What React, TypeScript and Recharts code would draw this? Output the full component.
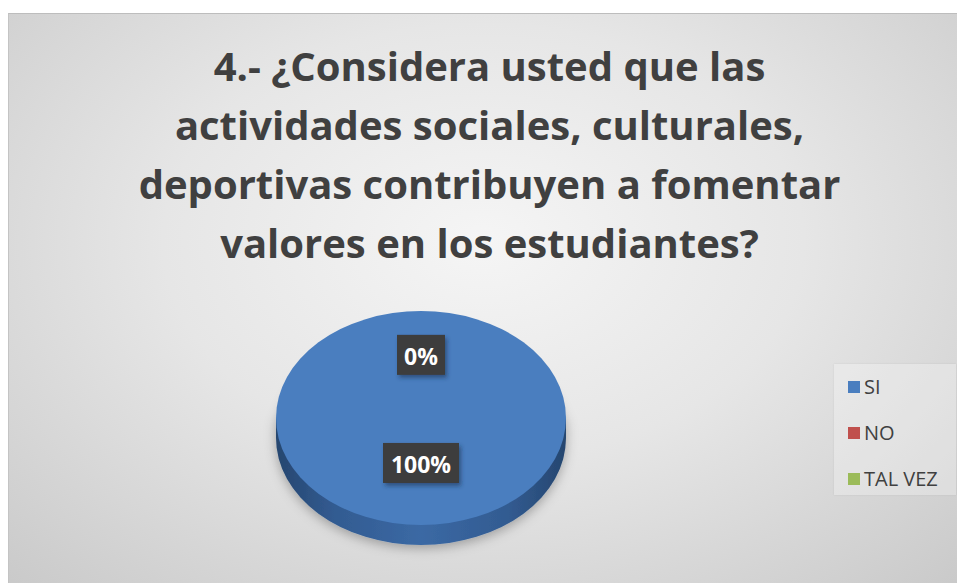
import React from "react";
import { Cell, Legend, Pie, PieChart } from "recharts";

const CATEGORIES = ["SI", "NO", "TAL VEZ"];
const VALUES = [100, 0, 0];
const COLORS = ["#4a7ebf", "#c0504d", "#9bbb59"];
const SIDE_COLORS = ["url(#sideBlue)", "#8a3a38", "#6f8a3e"];
const TITLE_LINES = [
  "4.- ¿Considera usted que las",
  "actividades sociales, culturales,",
  "deportivas contribuyen a fomentar",
  "valores en los estudiantes?"
];

const data = CATEGORIES.map((name, i) => ({ name, value: VALUES[i] }));

// 3D look: squash the pie vertically and add a rim below it
const ER = 0.738;
const DEPTH = 20;
const FONT = "'Open Sans', 'Noto Sans', sans-serif";

function pt(cx: number, cy: number, rx: number, ry: number, a: number) {
  const r = (a * Math.PI) / 180;
  return [cx + rx * Math.cos(r), cy - ry * Math.sin(r)];
}

function ellipseSector(cx: number, cy: number, rx: number, ry: number, sa: number, ea: number) {
  if (Math.abs(ea - sa) >= 359.99) {
    return `M ${cx - rx} ${cy} A ${rx} ${ry} 0 1 0 ${cx + rx} ${cy} A ${rx} ${ry} 0 1 0 ${cx - rx} ${cy} Z`;
  }
  const [x1, y1] = pt(cx, cy, rx, ry, sa);
  const [x2, y2] = pt(cx, cy, rx, ry, ea);
  const large = Math.abs(ea - sa) > 180 ? 1 : 0;
  const sweep = ea < sa ? 1 : 0;
  return `M ${cx} ${cy} L ${x1} ${y1} A ${rx} ${ry} 0 ${large} ${sweep} ${x2} ${y2} Z`;
}

function TopFace(props: any) {
  const { cx, cy, outerRadius, startAngle, endAngle, fill } = props;
  if (Math.abs(endAngle - startAngle) < 0.01) return <g />;
  return <path d={ellipseSector(cx, cy, outerRadius, outerRadius * ER, startAngle, endAngle)} fill={fill} />;
}

function SideFace(props: any) {
  const { cx, cy, outerRadius, startAngle, endAngle, fill } = props;
  const rx = outerRadius;
  const ry = outerRadius * ER;
  if (Math.abs(endAngle - startAngle) < 0.01) return <g />;
  if (Math.abs(endAngle - startAngle) >= 359.99) {
    return (
      <g filter="url(#pieShadow)">
        <rect x={cx - rx} y={cy} width={rx * 2} height={DEPTH} fill={fill} />
        <ellipse cx={cx} cy={cy + DEPTH} rx={rx} ry={ry} fill={fill} />
      </g>
    );
  }
  const [x1, y1] = pt(cx, cy, rx, ry, startAngle);
  const [x2, y2] = pt(cx, cy, rx, ry, endAngle);
  const large = Math.abs(endAngle - startAngle) > 180 ? 1 : 0;
  const sweep = endAngle < startAngle ? 1 : 0;
  const band = `M ${x1} ${y1} A ${rx} ${ry} 0 ${large} ${sweep} ${x2} ${y2} L ${x2} ${y2 + DEPTH} A ${rx} ${ry} 0 ${large} ${1 - sweep} ${x1} ${y1 + DEPTH} Z`;
  return (
    <g filter="url(#pieShadow)">
      <path d={ellipseSector(cx, cy + DEPTH, rx, ry, startAngle, endAngle)} fill={fill} />
      <path d={band} fill={fill} />
    </g>
  );
}

function renderLabel(props: any) {
  const { cx, cy, midAngle, outerRadius, percent, index } = props;
  if (percent === 0 && index !== VALUES.indexOf(0)) return null;
  const r = outerRadius * (percent >= 0.999 ? 0.42 : 0.59);
  const rad = (midAngle * Math.PI) / 180;
  const x = cx + r * Math.cos(rad);
  const y = cy - r * Math.sin(rad) * ER;
  const text = `${Math.round(percent * 100)}%`;
  const w = text.length * 14 + 20;
  const h = 40;
  return (
    <g key={`lbl-${index}`}>
      <rect x={x - w / 2} y={y - h / 2} width={w} height={h} fill="#3c3c3c" filter="url(#labelShadow)" />
      <text
        x={x}
        y={y + 1}
        textAnchor="middle"
        dominantBaseline="central"
        fill="#ffffff"
        fontFamily={FONT}
        fontWeight={700}
        fontSize={23}
      >
        {text}
      </text>
    </g>
  );
}

function renderLegend() {
  return (
    <div
      style={{
        width: 122,
        height: 131,
        background: "rgba(255,255,255,0.28)",
        boxShadow: "0 0 2px rgba(0,0,0,0.08)",
        paddingTop: 0
      }}
    >
      {CATEGORIES.map((name, i) => (
        <div
          key={name}
          style={{ display: "flex", alignItems: "center", height: 46, paddingLeft: 14, marginTop: i === 0 ? -4 : 0 }}
        >
          <span style={{ display: "inline-block", width: 12, height: 12, background: COLORS[i] }} />
          <span style={{ marginLeft: 4, fontFamily: FONT, fontSize: 20, color: "#404040", lineHeight: "20px" }}>
            {name}
          </span>
        </div>
      ))}
    </div>
  );
}

export default function App() {
  return (
    <div style={{ position: "absolute", left: 0, top: 0, width: 957, height: 583, background: "#fff", overflow: "hidden" }}>
      <div
        style={{
          position: "absolute",
          left: 8,
          top: 13,
          width: 949,
          height: 570,
          borderTop: "1px solid #bdbdbd",
          borderLeft: "1px solid #c4c4c4",
          background: "radial-gradient(ellipse 75% 85% at 50% 40%, #f5f5f5 0%, #e6e6e6 45%, #c8c8c8 100%)"
        }}
      >
        <div
          style={{
            position: "absolute",
            top: 22,
            left: 6,
            width: 949,
            textAlign: "center",
            fontFamily: FONT,
            fontWeight: 700,
            fontSize: 40,
            lineHeight: "59px",
            color: "#404040"
          }}
        >
          {TITLE_LINES.map((line, i) => (
            <div key={i}>{line}</div>
          ))}
        </div>
        <PieChart
          width={949}
          height={570}
          margin={{ top: 0, right: 0, bottom: 0, left: 0 }}
          style={{ position: "absolute", left: 0, top: 0 }}
        >
          <defs>
            <linearGradient id="sideBlue" x1="0" y1="0" x2="1" y2="0">
              <stop offset="0%" stopColor="#26466f" />
              <stop offset="20%" stopColor="#325b91" />
              <stop offset="50%" stopColor="#3b69a4" />
              <stop offset="80%" stopColor="#325b91" />
              <stop offset="100%" stopColor="#26466f" />
            </linearGradient>
            <filter id="pieShadow" x="-20%" y="-20%" width="140%" height="150%">
              <feDropShadow dx="0" dy="3" stdDeviation="6" floodColor="#000" floodOpacity="0.3" />
            </filter>
            <filter id="labelShadow" x="-20%" y="-20%" width="150%" height="150%">
              <feDropShadow dx="2" dy="3" stdDeviation="2" floodColor="#1b3557" floodOpacity="0.6" />
            </filter>
          </defs>
          <Pie
            data={data}
            dataKey="value"
            nameKey="name"
            cx={412}
            cy={404}
            outerRadius={145}
            startAngle={90}
            endAngle={-270}
            stroke="none"
            legendType="none"
            shape={SideFace}
            isAnimationActive={false}
          >
            {data.map((_, i) => (
              <Cell key={i} fill={SIDE_COLORS[i]} />
            ))}
          </Pie>
          <Pie
            data={data}
            dataKey="value"
            nameKey="name"
            cx={412}
            cy={404}
            outerRadius={145}
            startAngle={90}
            endAngle={-270}
            stroke="none"
            shape={TopFace}
            label={renderLabel}
            labelLine={false}
            isAnimationActive={false}
          >
            {data.map((_, i) => (
              <Cell key={i} fill={COLORS[i]} />
            ))}
          </Pie>
          <Legend
            layout="vertical"
            align="right"
            verticalAlign="top"
            content={renderLegend}
            wrapperStyle={{ left: 825, top: 354, right: "auto", width: 122, height: 131 }}
          />
        </PieChart>
      </div>
    </div>
  );
}
